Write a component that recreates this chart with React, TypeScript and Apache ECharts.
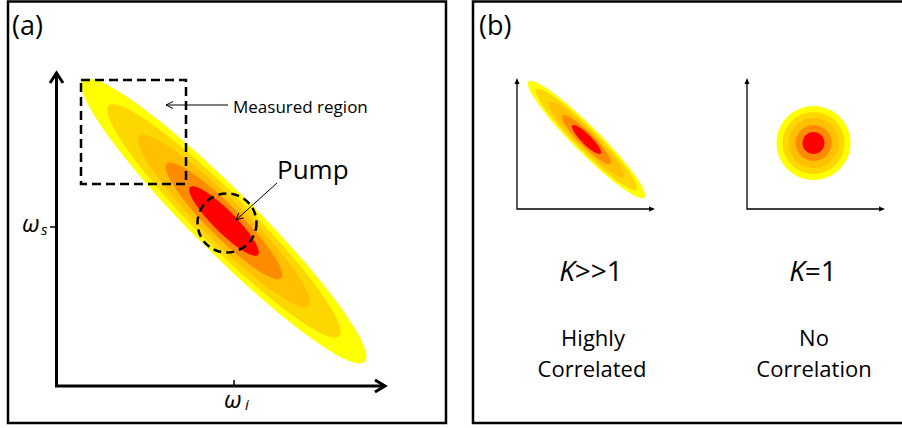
import React, { useEffect, useRef } from "react";
import * as echarts from "echarts";

// Contour levels (outer -> inner)
const ringColors = ["#FFFF00", "#FFD700", "#FFC000", "#FF8C00", "#FF0000"];
// Panel (a): large correlated joint spectrum (semi-axes in px units of the drawing)
const mainCenter = [224, 221];
const mainAngle = 45;
const mainMajor = [199, 163, 120, 81, 48];
const mainMinor = [31, 26, 21, 16, 11];
// Panel (b) left: K>>1
const smallCenter = [586.5, 139.5];
const smallAngle = 45;
const smallMajor = [82, 71, 53, 34, 20];
const smallMinor = [13, 11, 9, 7, 5];
// Panel (b) right: K=1
const roundCenter = [813.5, 143];
const roundRadius = [37, 31, 25, 18, 11];

const FONT = "Open Sans";

function buildEllipses(center: number[], major: number[], minor: number[], angle: number) {
  return major.map((a, i) => [center[0], center[1], a, minor[i], angle, i]);
}

function arrowHead(tail: number[], tip: number[], len: number, half: number) {
  const dx = tip[0] - tail[0];
  const dy = tip[1] - tail[1];
  const L = Math.hypot(dx, dy);
  const ux = dx / L, uy = dy / L;
  const px = -uy, py = ux;
  const bx = tip[0] - ux * len, by = tip[1] - uy * len;
  return [
    [bx + px * half, by + py * half],
    [tip[0], tip[1]],
    [bx - px * half, by - py * half],
  ];
}

export default function App() {
  const ref = useRef<HTMLDivElement>(null);
  useEffect(() => {
    document.body.style.margin = "0";
    document.body.style.overflow = "hidden";
    const chart = echarts.init(ref.current!, null, { renderer: "svg" });

    const data = [
      ...buildEllipses(mainCenter, mainMajor, mainMinor, mainAngle),
      ...buildEllipses(smallCenter, smallMajor, smallMinor, smallAngle),
      ...buildEllipses(roundCenter, roundRadius, roundRadius, 0),
    ];

    const pumpTail = [277, 183];
    const pumpTip = [236, 220];
    const measTail = [228, 105];
    const measTip = [166, 105];

    const black = "#000";
    const z = 100;
    const line = (pts: number[][], w: number, extra: any = {}) => ({
      type: "polyline",
      z,
      shape: { points: pts },
      style: { stroke: black, lineWidth: w, fill: null, ...extra },
    });
    const poly = (pts: number[][]) => ({
      type: "polygon",
      z,
      shape: { points: pts },
      style: { fill: black },
    });
    const txt = (x: number, y: number, text: string, size: number, extra: any = {}) => ({
      type: "text",
      z,
      x,
      y,
      style: {
        text,
        fontFamily: FONT,
        fontSize: size,
        fill: black,
        align: "left",
        verticalAlign: "middle",
        ...extra,
      },
    });

    const graphic: any[] = [
      // frames
      { type: "rect", z, shape: { x: 8, y: 1.5, width: 438, height: 421.5 }, style: { fill: null, stroke: black, lineWidth: 2.5 } },
      { type: "rect", z, shape: { x: 473, y: 1.5, width: 440, height: 421.5 }, style: { fill: null, stroke: black, lineWidth: 2.5 } },
      // panel (a) axes
      line([[56.5, 73], [56.5, 386], [385, 386]], 3),
      line([[50, 83], [56.5, 73], [63, 83]], 3),
      line([[375, 380], [385, 386], [375, 392]], 3),
      line([[50, 227], [56.5, 227]], 1.5),
      line([[234, 380], [234, 386]], 1.5),
      // dashed measured region
      { type: "rect", z, shape: { x: 81, y: 80, width: 105, height: 104 }, style: { fill: null, stroke: black, lineWidth: 2.5, lineDash: [9, 5] } },
      // dashed pump circle
      { type: "circle", z, shape: { cx: 227, cy: 223, r: 29.5 }, style: { fill: null, stroke: black, lineWidth: 2.5, lineDash: [8, 5] } },
      // arrows
      line([measTail, measTip], 1),
      line(arrowHead(measTail, measTip, 7, 3.5), 1),
      line([pumpTail, pumpTip], 1),
      line(arrowHead(pumpTail, pumpTip, 7, 3.5), 1),
      // panel (b) small axes
      line([[517, 82], [517, 209], [651, 209]], 1.3),
      poly(arrowHead([517, 100], [517, 78], 6, 2.5)),
      poly(arrowHead([600, 209], [655, 209], 6, 2.5)),
      line([[747, 82], [747, 209], [881, 209]], 1.3),
      poly(arrowHead([747, 100], [747, 78], 6, 2.5)),
      poly(arrowHead([800, 209], [885, 209], 6, 2.5)),
      // texts
      txt(12, 24, "(a)", 27),
      txt(479, 24, "(b)", 27),
      txt(233, 106, "Measured region", 17),
      txt(277, 169, "Pump", 26),
      txt(22, 222, "ω", 24, { fontStyle: "italic" }),
      txt(41, 229, "s", 15, { fontStyle: "italic" }),
      txt(224, 398, "ω", 24, { fontStyle: "italic" }),
      txt(245, 404, "i", 15, { fontStyle: "italic" }),
      {
        type: "text",
        z,
        x: 591,
        y: 269.5,
        style: {
          text: "{k|K}{n|>>1}",
          align: "center",
          verticalAlign: "middle",
          rich: {
            k: { fontFamily: FONT, fontSize: 28, fontStyle: "italic", fill: black },
            n: { fontFamily: FONT, fontSize: 28, fill: black },
          },
        },
      },
      {
        type: "text",
        z,
        x: 813,
        y: 269.5,
        style: {
          text: "{k|K}{n|=1}",
          align: "center",
          verticalAlign: "middle",
          rich: {
            k: { fontFamily: FONT, fontSize: 28, fontStyle: "italic", fill: black },
            n: { fontFamily: FONT, fontSize: 28, fill: black },
          },
        },
      },
      txt(593, 337, "Highly", 22, { align: "center" }),
      txt(592, 368, "Correlated", 22, { align: "center" }),
      txt(814, 337, "No", 22, { align: "center" }),
      txt(814, 368, "Correlation", 22, { align: "center" }),
    ];

    chart.setOption({
      animation: false,
      grid: { left: 0, top: 0, right: 0, bottom: 0 },
      xAxis: { type: "value", min: 0, max: 902, show: false },
      yAxis: { type: "value", min: 0, max: 428, inverse: true, show: false },
      series: [
        {
          type: "custom",
          coordinateSystem: "cartesian2d",
          data,
          silent: true,
          renderItem: (params: any, api: any) => {
            const c = api.coord([api.value(0), api.value(1)]);
            const s = api.size([api.value(2), api.value(3)]);
            return {
              type: "ellipse",
              x: c[0],
              y: c[1],
              rotation: (-api.value(4) * Math.PI) / 180,
              shape: { cx: 0, cy: 0, rx: s[0], ry: s[1] },
              style: { fill: ringColors[api.value(5)] },
            };
          },
        },
      ],
      graphic: { elements: graphic },
    });
    return () => chart.dispose();
  }, []);
  return <div ref={ref} style={{ width: 902, height: 428 }} />;
}
